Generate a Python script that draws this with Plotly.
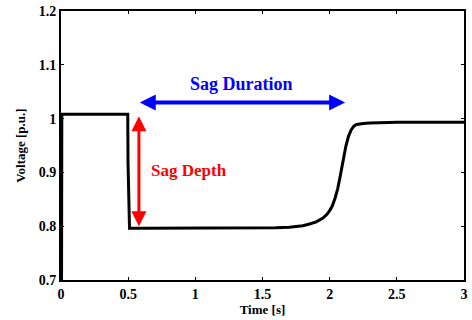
import plotly.graph_objects as go

time_s = [0.0, 0.004, 0.006, 0.1, 0.2, 0.3, 0.4, 0.497, 0.499, 0.503, 0.506, 0.51, 0.6,
          1.0, 1.4, 1.5, 1.6, 1.7, 1.8, 1.85, 1.9, 1.95, 1.98, 2.0, 2.02, 2.04, 2.06,
          2.08, 2.10, 2.12, 2.14, 2.16, 2.18, 2.2, 2.25, 2.3, 2.5, 3.0]
voltage_pu = [0.7, 0.7, 1.008, 1.008, 1.008, 1.008, 1.008, 1.008, 0.918, 0.85, 0.82, 0.796, 0.796,
              0.796, 0.796, 0.796, 0.797, 0.798, 0.801, 0.804, 0.808, 0.815, 0.822, 0.829, 0.838,
              0.852, 0.870, 0.895, 0.922, 0.948, 0.967, 0.979, 0.986, 0.989, 0.991, 0.992,
              0.993, 0.993]

x_ticks = [0, 0.5, 1, 1.5, 2, 2.5, 3]
x_tick_labels = ["0", "0.5", "1", "1.5", "2", "2.5", "3"]
y_ticks = [0.7, 0.8, 0.9, 1.0, 1.1, 1.2]
y_tick_labels = ["0.7", "0.8", "0.9", "1", "1.1", "1.2"]

duration_span = [0.575, 2.115]
duration_level = 1.03
depth_time = 0.58
depth_span = [1.007, 0.80]

FONT = "Liberation Serif"

fig = go.Figure()
fig.add_trace(go.Scatter(x=time_s, y=voltage_pu, mode="lines",
                         line=dict(color="black", width=3),
                         hoverinfo="skip", showlegend=False))

# Sag duration double arrow
fig.add_annotation(x=duration_span[1], y=duration_level, ax=duration_span[0], ay=duration_level,
                   xref="x", yref="y", axref="x", ayref="y", text="",
                   showarrow=True, arrowhead=2, startarrowhead=2, arrowside="end+start",
                   arrowwidth=4, arrowsize=0.8, startarrowsize=0.8, arrowcolor="#0000ff")
fig.add_annotation(x=sum(duration_span) / 2, y=1.065, xref="x", yref="y",
                   text="Sag Duration", showarrow=False,
                   font=dict(family=FONT, size=18, color="#0000ff", weight="bold"))

# Sag depth double arrow
fig.add_annotation(x=depth_time, y=depth_span[1], ax=depth_time, ay=depth_span[0],
                   xref="x", yref="y", axref="x", ayref="y", text="",
                   showarrow=True, arrowhead=2, startarrowhead=2, arrowside="end+start",
                   arrowwidth=3, arrowsize=1.0, startarrowsize=1.0, arrowcolor="#ff0000")
fig.add_annotation(x=0.955, y=0.903, xref="x", yref="y",
                   text="Sag Depth", showarrow=False,
                   font=dict(family=FONT, size=17, color="#ff0000", weight="bold"))

axis_common = dict(showline=True, linecolor="black", linewidth=2, mirror="ticks",
                   ticks="inside", ticklen=3, tickwidth=1, tickcolor="black",
                   showgrid=False, zeroline=False,
                   tickfont=dict(family=FONT, size=14, color="black", weight="bold"))

fig.update_xaxes(range=[0, 3], tickvals=x_ticks, ticktext=x_tick_labels,
                 title=dict(text="Time [s]",
                            font=dict(family=FONT, size=13, color="black", weight="bold"),
                            standoff=3),
                 **axis_common)
fig.update_yaxes(range=[0.7, 1.2], tickvals=y_ticks, ticktext=y_tick_labels,
                 title=dict(text="Voltage [p.u.]",
                            font=dict(family=FONT, size=13, color="black", weight="bold"),
                            standoff=10),
                 **axis_common)

fig.update_layout(width=472, height=320, margin=dict(l=61, r=4, t=9, b=40),
                  plot_bgcolor="white", paper_bgcolor="white",
                  font=dict(family=FONT, color="black"))

fig.write_html("out.html")
